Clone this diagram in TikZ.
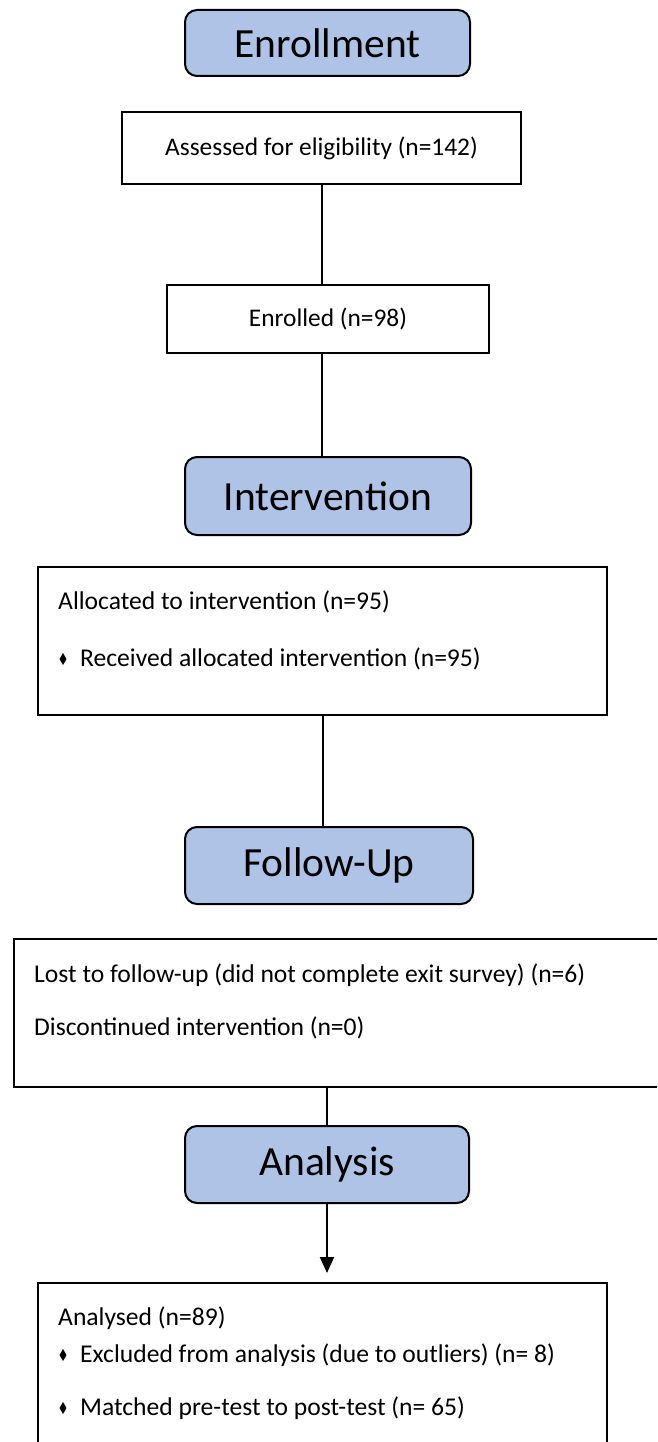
\documentclass[tikz,border=0pt]{standalone}
\usepackage{fontspec}
\setmainfont{Carlito}
\usetikzlibrary{arrows.meta,calc}
\definecolor{hdrblue}{RGB}{174,195,229}
\begin{document}
\begin{tikzpicture}[x=1pt,y=-1pt,
  hdr/.style={draw=black, line width=2pt, fill=hdrblue, rounded corners=12pt,
    font=\fontsize{41.5}{48}\selectfont, inner sep=0pt},
  box/.style={draw=black, line width=2pt, inner sep=0pt, font=\fontsize{25.4}{30}\selectfont},
  txt/.style={font=\fontsize{25.6}{30}\selectfont, inner sep=0pt, anchor=west},
  conn/.style={draw=black, line width=2pt},
  bul/.style={fill=black}]
\clip (0,0) rectangle (657,1442);
\useasboundingbox (0,0) rectangle (657,1442);

% headers
\node[hdr, minimum width=285pt, minimum height=66pt] (enroll) at (327.5,43) {Enrollment};
\node[hdr, minimum width=286pt, minimum height=78pt] (interv) at (328,496) {Intervention};
\node[hdr, minimum width=288pt, minimum height=77pt] (follow) at (329,865.5) {Follow-Up};
\node[hdr, minimum width=284pt, minimum height=77pt] (analysis) at (327,1164.5) {Analysis};

% boxes
\node[box, minimum width=399pt, minimum height=72pt] (assessed) at (321.5,148) {Assessed for eligibility (n=142)};
\node[box, minimum width=322pt, minimum height=68pt] (enrolled) at (328,319) {Enrolled (n=98)};
\node[box, minimum width=569pt, minimum height=148pt] (allocbox) at (322.5,641) {};
\node[box, minimum width=651pt, minimum height=148pt] (fubox) at (339.5,1013) {};
\node[box, minimum width=569pt, minimum height=177pt] (anbox) at (322.5,1371.5) {};

% texts
\node[txt] (alloc) at (58,602) {Allocated to intervention (n=95)};
\node[txt] (recv) at (80,659) {Received allocated intervention (n=95)};
\node[txt] (lost) at (34,975) {Lost to follow-up (did not complete exit survey) (n=6)};
\node[txt] (disc) at (34,1028) {Discontinued intervention (n=0)};
\node[txt] (analysed) at (58,1318) {Analysed (n=89)};
\node[txt] (excl) at (80,1355) {Excluded from analysis (due to outliers) (n= 8)};
\node[txt] (match) at (80,1408) {Matched pre-test to post-test (n= 65)};

% bullets
\fill[bul] ($(recv.west)+(-17,-6)$) -- ++(3.5,6) -- ++(-3.5,6) -- ++(-3.5,-6) -- cycle;
\fill[bul] ($(excl.west)+(-17,-6)$) -- ++(3.5,6) -- ++(-3.5,6) -- ++(-3.5,-6) -- cycle;
\fill[bul] ($(match.west)+(-17,-6)$) -- ++(3.5,6) -- ++(-3.5,6) -- ++(-3.5,-6) -- cycle;

% connectors
\draw[conn] (assessed.south) -- (assessed.south |- enrolled.north);
\draw[conn] (assessed.south |- enrolled.south) -- (assessed.south |- interv.north);
\draw[conn] (allocbox.south) -- (allocbox.south |- follow.north);
\draw[conn] (analysis.north |- fubox.south) -- (analysis.north);
\draw[conn, -{Triangle[width=14pt,length=16pt]}, shorten >=9pt] (analysis.south) -- (analysis.south |- anbox.north);
\end{tikzpicture}
\end{document}
